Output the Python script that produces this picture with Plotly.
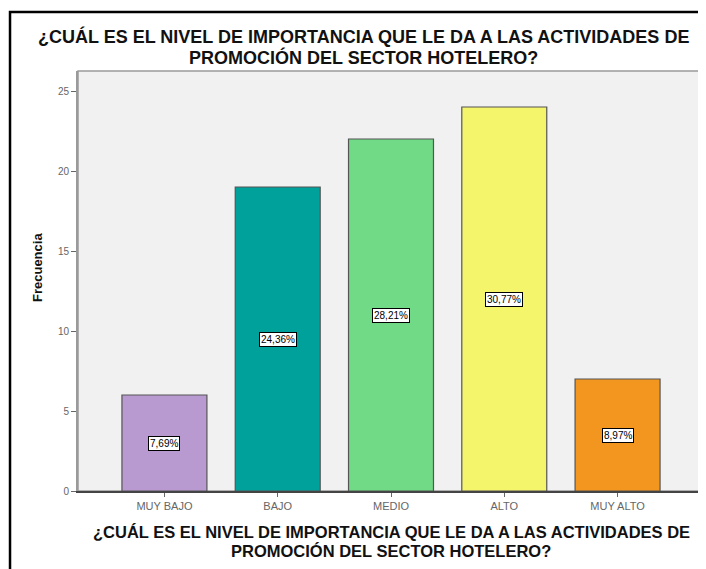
import plotly.graph_objects as go

categorias = ['MUY BAJO', 'BAJO', 'MEDIO', 'ALTO', 'MUY ALTO']
frecuencia = [6, 19, 22, 24, 7]
porcentajes = ['7,69%', '24,36%', '28,21%', '30,77%', '8,97%']
colores = ['#b99ad0', '#00a19a', '#70da86', '#f5f56c', '#f2961f']

linea1 = '¿CUÁL ES EL NIVEL DE IMPORTANCIA QUE LE DA A LAS ACTIVIDADES DE'
linea2 = 'PROMOCIÓN DEL SECTOR HOTELERO?'

fig = go.Figure()
fig.add_trace(go.Bar(
    x=categorias,
    y=frecuencia,
    width=0.75,
    marker=dict(color=colores, line=dict(color='#555555', width=1.2)),
    hoverinfo='skip',
))

# etiquetas de porcentaje en recuadro blanco a media altura
for cat, val, pct in zip(categorias, frecuencia, porcentajes):
    fig.add_annotation(
        x=cat, y=val / 2, text=pct, showarrow=False,
        font=dict(family='Liberation Sans', size=10, color='black'),
        bgcolor='white', bordercolor='black', borderwidth=1, borderpad=1,
    )

def texto(t, x, y, size, angle=0):
    fig.add_annotation(
        xref='paper', yref='paper', x=x, y=y, text='<b>' + t + '</b>',
        showarrow=False, textangle=angle, xanchor='center', yanchor='middle',
        borderpad=0,
        font=dict(family='Liberation Sans', size=size, color='#111111'),
    )

# título superior
texto(linea1, 0.4553, 1.0833, 18)
texto(linea2, 0.4553, 1.0333, 18)
# título del eje x
texto(linea1, 0.5, -0.0976, 16.5)
texto(linea2, 0.5, -0.1429, 16.5)
# título del eje y
texto('Frecuencia', -0.0655, 0.5333, 13, angle=-90)

# marco negro exterior
fig.add_shape(type='rect', xref='paper', yref='paper',
              x0=-0.1086, x1=1.05, y0=-0.3, y1=1.1405,
              line=dict(color='black', width=2.5), layer='below')
# borde del área del gráfico
fig.add_shape(type='rect', xref='paper', yref='paper', x0=0, x1=1, y0=0, y1=1,
              line=dict(color='#9a9a9a', width=1.5), layer='below')

# la página añade 8 px de margen, por eso el área queda desplazada
fig.update_layout(
    width=706, height=569,
    margin=dict(l=70, r=10, t=63, b=86),
    paper_bgcolor='white',
    plot_bgcolor='#f1f1f1',
    showlegend=False,
    font=dict(family='Liberation Sans'),
)

fig.update_xaxes(
    range=[-0.763, 4.763],
    automargin=False,
    showline=True, linecolor='#444444', linewidth=1.5,
    ticks='outside', ticklen=4, tickcolor='#666666',
    tickfont=dict(size=11, color='#666666'),
)
fig.update_yaxes(
    range=[0, 26.25],
    automargin=False,
    tickvals=[0, 5, 10, 15, 20, 25],
    showgrid=False, zeroline=False,
    showline=True, linecolor='#9a9a9a', linewidth=2,
    ticks='outside', ticklen=5, tickcolor='#666666',
    tickfont=dict(size=10, color='#666666'),
)

fig.write_html('out.html')
